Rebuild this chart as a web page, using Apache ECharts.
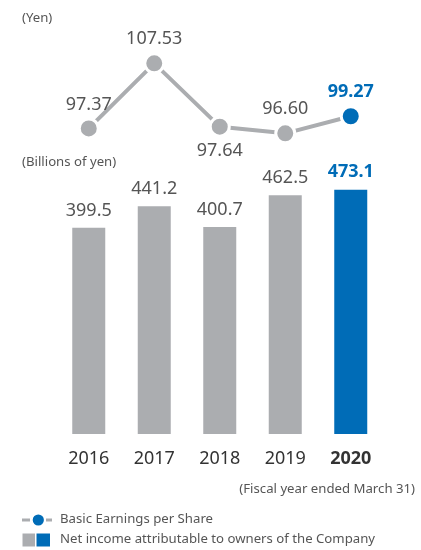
<!DOCTYPE html>
<html>
<head>
<meta charset="utf-8">
<script src="https://cdn.jsdelivr.net/npm/echarts@6/dist/echarts.min.js"></script>
<style>
  html, body { margin: 0; padding: 0; background: #fff; }
  #chart { width: 421px; height: 550px; }
</style>
</head>
<body>
<div id="chart"></div>
<script>
// Fiscal years (ended March 31)
const years = ['2016', '2017', '2018', '2019', '2020'];
// Basic earnings per share (yen)
const eps = [97.37, 107.53, 97.64, 96.60, 99.27];
// Net income attributable to owners of the Company (billions of yen)
const netIncome = [399.5, 441.2, 400.7, 462.5, 473.1];
// EPS labels that sit below their marker
const epsLabelBelow = ['2018'];

const GREY = '#abadb0';
const BLUE = '#006cb7';
const TEXT = '#555555';
const FONT = 'Noto Sans';
const SMALL = 13.2;
const last = years.length - 1;

const epsData = eps.map((v, i) => {
  const cur = i === last;
  return {
    value: v,
    itemStyle: { color: cur ? BLUE : GREY },
    label: {
      position: epsLabelBelow.includes(years[i]) ? 'bottom' : 'top',
      distance: epsLabelBelow.includes(years[i]) ? 3 : 3,
      color: cur ? BLUE : TEXT,
      fontWeight: cur ? 'bold' : 'normal'
    }
  };
});

const barData = netIncome.map((v, i) => {
  const cur = i === last;
  return {
    value: v,
    itemStyle: { color: cur ? BLUE : GREY },
    label: {
      color: cur ? BLUE : TEXT,
      fontWeight: cur ? 'bold' : 'normal',
      distance: cur ? 8 : 7
    }
  };
});

const chart = echarts.init(document.getElementById('chart'));
chart.setOption({
  animation: false,
  textStyle: { fontFamily: FONT },
  grid: [
    { left: 56, width: 327.5, top: 47.5, height: 128.1 },
    { left: 56, width: 327.5, top: 175.8, height: 258.2 }
  ],
  xAxis: [
    { type: 'category', data: years, gridIndex: 0, show: false },
    {
      type: 'category', data: years, gridIndex: 1,
      axisLine: { show: false }, axisTick: { show: false },
      axisLabel: {
        interval: 0,
        margin: 15, fontSize: 18, lineHeight: 20, color: '#333', fontFamily: FONT,
        formatter: (v) => v === years[last] ? '{b|' + v + '}' : v,
        rich: { b: { fontWeight: 'bold', fontSize: 18, color: '#333', fontFamily: FONT } }
      }
    }
  ],
  yAxis: [
    { type: 'value', gridIndex: 0, min: 90, max: 110, show: false },
    { type: 'value', gridIndex: 1, min: 0, max: 500, show: false }
  ],
  series: [
    {
      type: 'bar',
      xAxisIndex: 1, yAxisIndex: 1,
      barWidth: 33,
      data: barData,
      label: {
        show: true, position: 'top', fontSize: 18, lineHeight: 20, fontFamily: FONT,
        formatter: (p) => p.value.toFixed(1)
      }
    },
    {
      type: 'line',
      xAxisIndex: 0, yAxisIndex: 0,
      data: epsData,
      symbol: 'circle',
      symbolSize: 19,
      lineStyle: { color: GREY, width: 4 },
      itemStyle: { borderColor: '#fff', borderWidth: 3 },
      label: {
        show: true, fontSize: 18, lineHeight: 20, fontFamily: FONT,
        formatter: (p) => p.value.toFixed(2)
      }
    }
  ],
  graphic: [
    { type: 'text', left: 22, top: 12, style: { text: '(Yen)', fontSize: SMALL, fill: TEXT, fontFamily: FONT } },
    { type: 'text', left: 22, top: 156, style: { text: '(Billions of yen)', fontSize: SMALL, fill: TEXT, fontFamily: FONT } },
    { type: 'text', right: 6, top: 483, style: { text: '(Fiscal year ended March 31)', fontSize: SMALL, fill: TEXT, fontFamily: FONT } },
    // legend: EPS line
    { type: 'line', shape: { x1: 22, y1: 520, x2: 30, y2: 520 }, style: { stroke: GREY, lineWidth: 3 } },
    { type: 'line', shape: { x1: 46, y1: 520, x2: 52, y2: 520 }, style: { stroke: GREY, lineWidth: 3 } },
    { type: 'circle', shape: { cx: 38.3, cy: 520, r: 5.6 }, style: { fill: BLUE } },
    { type: 'text', left: 60, top: 513, style: { text: 'Basic Earnings per Share', fontSize: SMALL, fill: TEXT, fontFamily: FONT } },
    // legend: net income bars
    { type: 'rect', shape: { x: 22.5, y: 533.5, width: 12.5, height: 13 }, style: { fill: GREY } },
    { type: 'rect', shape: { x: 36.5, y: 533.5, width: 13.5, height: 13 }, style: { fill: BLUE } },
    { type: 'text', left: 60, top: 533, style: { text: 'Net income attributable to owners of the Company', fontSize: SMALL, fill: TEXT, fontFamily: FONT } }
  ]
});
</script>
</body>
</html>
